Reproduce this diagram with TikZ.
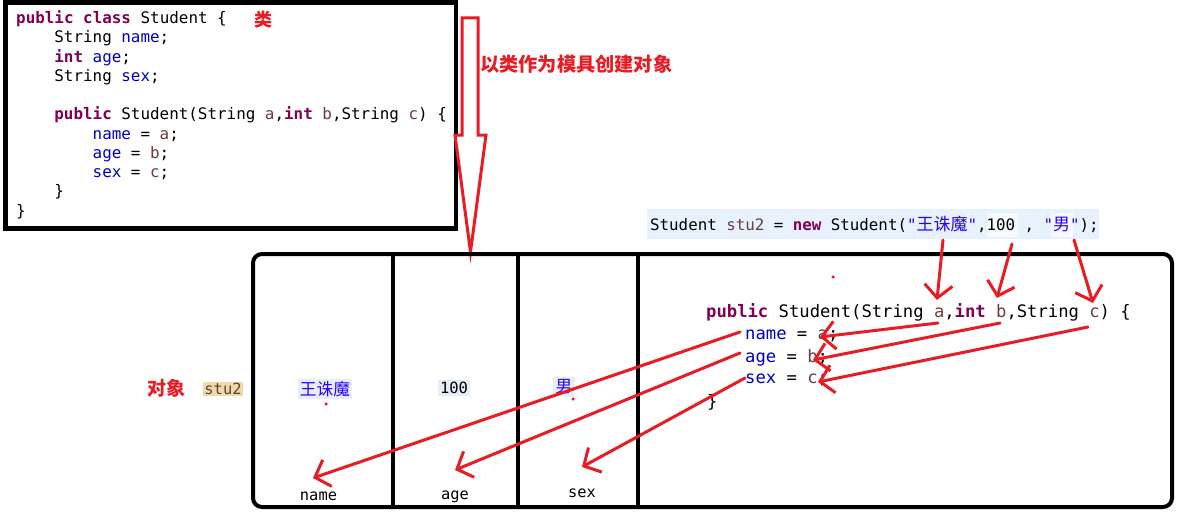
\documentclass[tikz,border=0pt]{standalone}
\usepackage{fontspec}
\usetikzlibrary{arrows.meta}
\newfontfamily\code{DejaVu Sans Mono}
\newfontfamily\cjk{Noto Sans CJK SC}
\definecolor{annot}{RGB}{232,28,36}
\definecolor{kwc}{HTML}{7F0055}
\definecolor{fldc}{HTML}{0000C0}
\definecolor{parc}{HTML}{6A3E3E}
\definecolor{strc}{HTML}{2A00FF}
\definecolor{stmtbg}{HTML}{E8F2FE}
\definecolor{cellbg}{HTML}{E6EEF8}
\definecolor{tanbg}{HTML}{F0D8AA}
\definecolor{stutext}{HTML}{5A4632}
\newcommand\jkw[1]{{\bfseries\color{kwc}#1}}
\newcommand\jfld[1]{{\color{fldc}#1}}
\newcommand\jpar[1]{{\color{parc}#1}}
\newcommand\jcjk[2]{{\cjk\fontsize{#1}{#1}\selectfont #2}}
\tikzset{
  codeA/.style={anchor=base west, inner sep=0pt, font=\code\fontsize{15.9}{19}\selectfont},
  codeB/.style={anchor=base west, inner sep=0pt, font=\code\fontsize{17.2}{20}\selectfont},
  codeS/.style={anchor=base west, inner sep=0pt, font=\code\fontsize{15.8}{19}\selectfont},
  small/.style={anchor=base, inner sep=0pt, font=\code\fontsize{15.4}{18}\selectfont},
  redlabel/.style={inner sep=0pt, text=annot, font=\cjk\bfseries\fontsize{#1}{#1}\selectfont},
  heavy/.style={line width=4pt, draw=black},
  redarrow/.style={draw=annot, line width=3pt, line cap=round,
    -{Straight Barb[length=13pt,width=28pt]}},
  dot/.style={fill=annot, circle, inner sep=0pt, minimum size=3.5pt},
}
\begin{document}
\begin{tikzpicture}[x=1pt,y=-1pt]
\useasboundingbox (0,0) rectangle (1184,519);
\fill[white] (0,0) rectangle (1184,519);

% ---------- class box ----------
\draw[line width=4.5pt] (5.5,2.5) rectangle (456,228.5);
\node[codeA] (c1) at (16,23.5) {\jkw{public} \jkw{class} Student \{};
\node[codeA] (c2) at (54.2,42.8) {String \jfld{name};};
\node[codeA] (c3) at (54.2,62.1) {\jkw{int} \jfld{age};};
\node[codeA] (c4) at (54.2,81.4) {String \jfld{sex};};
\node[codeA] (c5) at (54.2,120) {\jkw{public} Student(String \jpar{a},\jkw{int} \jpar{b},String \jpar{c}) \{};
\node[codeA] (c6) at (92.5,139.3) {\jfld{name} = \jpar{a};};
\node[codeA] (c7) at (92.5,158.6) {\jfld{age} = \jpar{b};};
\node[codeA] (c8) at (92.5,177.9) {\jfld{sex} = \jpar{c};};
\node[codeA] (c9) at (54.2,196.7) {\}};
\node[codeA] (c10) at (16,216) {\}};
\node[redlabel=18] (lei) at (263,20) {类};

% ---------- hollow arrow ----------
\draw[annot, line width=3pt, fill=white, line join=miter]
  (462,18) -- (478,18) -- (478,135) -- (486,135) -- (470.5,252) -- (455,135) -- (462,135) -- cycle;
\node[redlabel=19.2, anchor=west] (mould) at (480,64) {以类作为模具创建对象};

% ---------- statement ----------
\fill[stmtbg] (647,209) rectangle (1099,239);
\fill[white!60!stmtbg] (987,213) rectangle (1018,237);
\fill[white!60!stmtbg] (1051,213) rectangle (1073,237);
\node[codeS] (stmt) at (650,230) {Student \jpar{stu2} = \jkw{new} Student({\color{strc}"\jcjk{17}{王诛魔}"},100 , {\color{strc}"\jcjk{17}{男}"});};

% ---------- object box ----------
\draw[heavy, rounded corners=9pt] (253,254) rectangle (1172,507);
\draw[heavy] (393,254) -- (393,507);
\draw[heavy] (518,254) -- (518,507);
\draw[heavy] (638,254) -- (638,507);

\node[redlabel=19] (obj) at (166,388) {对象};
\node[fill=tanbg, inner sep=1.5pt, text=stutext, font=\code\fontsize{15.4}{18}\selectfont] (stu) at (223,389) {stu2};
\node[fill=cellbg, inner sep=2pt, text=strc, font=\cjk\fontsize{16.7}{17}\selectfont] (vname) at (325,389) {王诛魔};
\node[fill=cellbg, inner sep=2pt, font=\code\fontsize{15.5}{18}\selectfont] (vage) at (454,388) {100};
\node[fill=cellbg, inner sep=2.5pt, text=strc, font=\cjk\fontsize{16.7}{17}\selectfont] (vsex) at (564,387) {男};

\node[small] (fname) at (318.5,500) {name};
\node[small] (fage) at (455,499) {age};
\node[small] (fsex) at (582,497) {sex};

\node[codeB] (k1) at (706,317) {\jkw{public} Student(String \jpar{a},\jkw{int} \jpar{b},String \jpar{c}) \{};
\node[codeB] (k2) at (745,339) {\jfld{name} = \jpar{a};};
\node[codeB] (k3) at (745,362) {\jfld{age} = \jpar{b};};
\node[codeB] (k4) at (745,383) {\jfld{sex} = \jpar{c};};
\node[codeB] (k5) at (707,407) {\}};

% dots
\node[dot] (d1) at (326,404) {};
\node[dot] (d2) at (573,399) {};
\node[dot] (d3) at (833,277) {};

% ---------- red arrows ----------
\coordinate (sa) at (943,240);  \coordinate (ta) at (937,300);
\coordinate (sb) at (1012,244); \coordinate (tb) at (997,298);
\coordinate (sc) at (1074,240); \coordinate (tc) at (1093,303);
\coordinate (pa) at (938,323);  \coordinate (na) at (820,337);
\coordinate (pb) at (1000,323); \coordinate (nb) at (813,360);
\coordinate (pc) at (1088,327); \coordinate (nc) at (818,382);
\coordinate (fa) at (740,332);  \coordinate (ga) at (313,478);
\coordinate (fb) at (740,353);  \coordinate (gb) at (455,470);
\coordinate (fc) at (745,378);  \coordinate (gc) at (582,467);
\draw[redarrow] (sa) -- (ta);
\draw[redarrow] (sb) -- (tb);
\draw[redarrow] (sc) -- (tc);
\draw[redarrow] (pa) -- (na);
\draw[redarrow] (pb) -- (nb);
\draw[redarrow] (pc) -- (nc);
\draw[redarrow] (fa) -- (ga);
\draw[redarrow] (fb) -- (gb);
\draw[redarrow] (fc) -- (gc);
\end{tikzpicture}
\end{document}
